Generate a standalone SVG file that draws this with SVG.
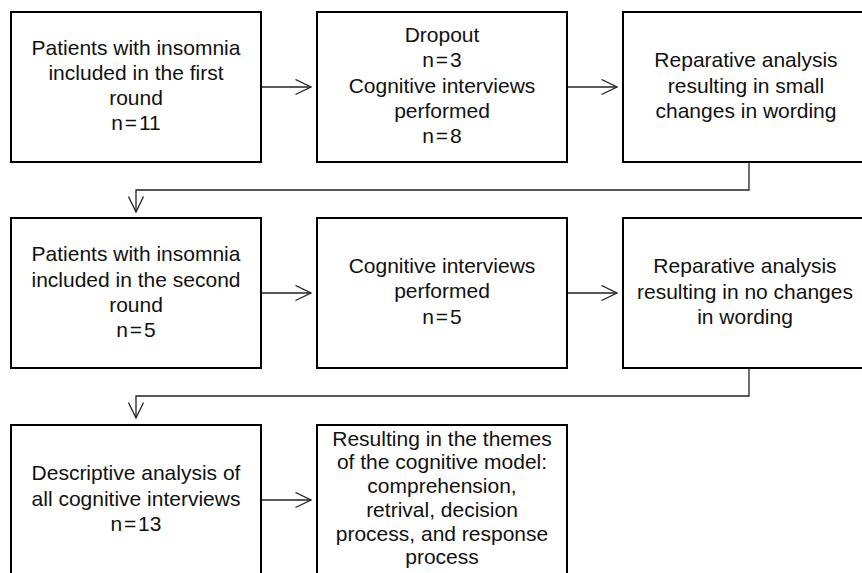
<svg xmlns="http://www.w3.org/2000/svg" width="862" height="573" viewBox="0 0 862 573">
  <style>
    .box { fill: #ffffff; stroke: #000000; stroke-width: 2; }
    .lbl { font-family: "Liberation Sans", Arial, sans-serif; font-size: 21px; fill: #111111; text-anchor: middle; }
    .n { word-spacing: -4px; }
    .conn { fill: none; stroke: #222222; stroke-width: 1.3; marker-end: url(#arr); }
  </style>
  <defs>
    <marker id="arr" markerUnits="userSpaceOnUse" viewBox="0 0 17 17" refX="16" refY="8.5" markerWidth="17" markerHeight="17" orient="auto">
      <path d="M0.5,1 L16,8.5 L0.5,16" fill="none" stroke="#222222" stroke-width="1.3"/>
    </marker>
  </defs>
  <rect width="862" height="573" fill="#ffffff"/>

  <g id="connectors">
    <path class="conn" d="M261,87 H311"/>
    <path class="conn" d="M567,87 H617"/>
    <path class="conn" d="M749,162 V190 H136 V212"/>
    <path class="conn" d="M261,293 H311"/>
    <path class="conn" d="M567,293 H617"/>
    <path class="conn" d="M749,368 V396 H136 V418"/>
    <path class="conn" d="M261,500 H311"/>
  </g>

  <g id="n1">
    <rect class="box" x="11" y="12" width="250" height="150"/>
    <text class="lbl"><tspan x="136" y="54.5">Patients with insomnia</tspan><tspan x="136" y="80">included in the first</tspan><tspan x="136" y="105">round</tspan><tspan class="n" x="136" y="130">n = 11</tspan></text>
  </g>
  <g id="n2">
    <rect class="box" x="317" y="12" width="250" height="150"/>
    <text class="lbl"><tspan x="442" y="41.5">Dropout</tspan><tspan class="n" x="442" y="67">n = 3</tspan><tspan x="442" y="92.5">Cognitive interviews</tspan><tspan x="442" y="117.5">performed</tspan><tspan class="n" x="442" y="143">n = 8</tspan></text>
  </g>
  <g id="n3">
    <rect class="box" x="623" y="12" width="250" height="150"/>
    <text class="lbl"><tspan x="746" y="67">Reparative analysis</tspan><tspan x="746" y="92.5">resulting in small</tspan><tspan x="746" y="118">changes in wording</tspan></text>
  </g>
  <g id="n4">
    <rect class="box" x="11" y="218" width="250" height="150"/>
    <text class="lbl"><tspan x="136" y="261">Patients with insomnia</tspan><tspan x="136" y="286.5">included in the second</tspan><tspan x="136" y="311.5">round</tspan><tspan class="n" x="136" y="336.5">n = 5</tspan></text>
  </g>
  <g id="n5">
    <rect class="box" x="317" y="218" width="250" height="150"/>
    <text class="lbl"><tspan x="442" y="272.5">Cognitive interviews</tspan><tspan x="442" y="298">performed</tspan><tspan class="n" x="442" y="324">n = 5</tspan></text>
  </g>
  <g id="n6">
    <rect class="box" x="623" y="218" width="250" height="150"/>
    <text class="lbl"><tspan x="745" y="273">Reparative analysis</tspan><tspan x="745" y="298.5">resulting in no changes</tspan><tspan x="745" y="324">in wording</tspan></text>
  </g>
  <g id="n7">
    <rect class="box" x="11" y="425" width="250" height="150"/>
    <text class="lbl"><tspan x="136" y="480">Descriptive analysis of</tspan><tspan x="136" y="505.5">all cognitive interviews</tspan><tspan class="n" x="136" y="531">n = 13</tspan></text>
  </g>
  <g id="n8">
    <rect class="box" x="317" y="425" width="250" height="150"/>
    <text class="lbl"><tspan x="442" y="445.5">Resulting in the themes</tspan><tspan x="442" y="469.3">of the cognitive model:</tspan><tspan x="442" y="493">comprehension,</tspan><tspan x="442" y="516.8">retrival, decision</tspan><tspan x="442" y="540.6">process, and response</tspan><tspan x="442" y="564.4">process</tspan></text>
  </g>
</svg>
